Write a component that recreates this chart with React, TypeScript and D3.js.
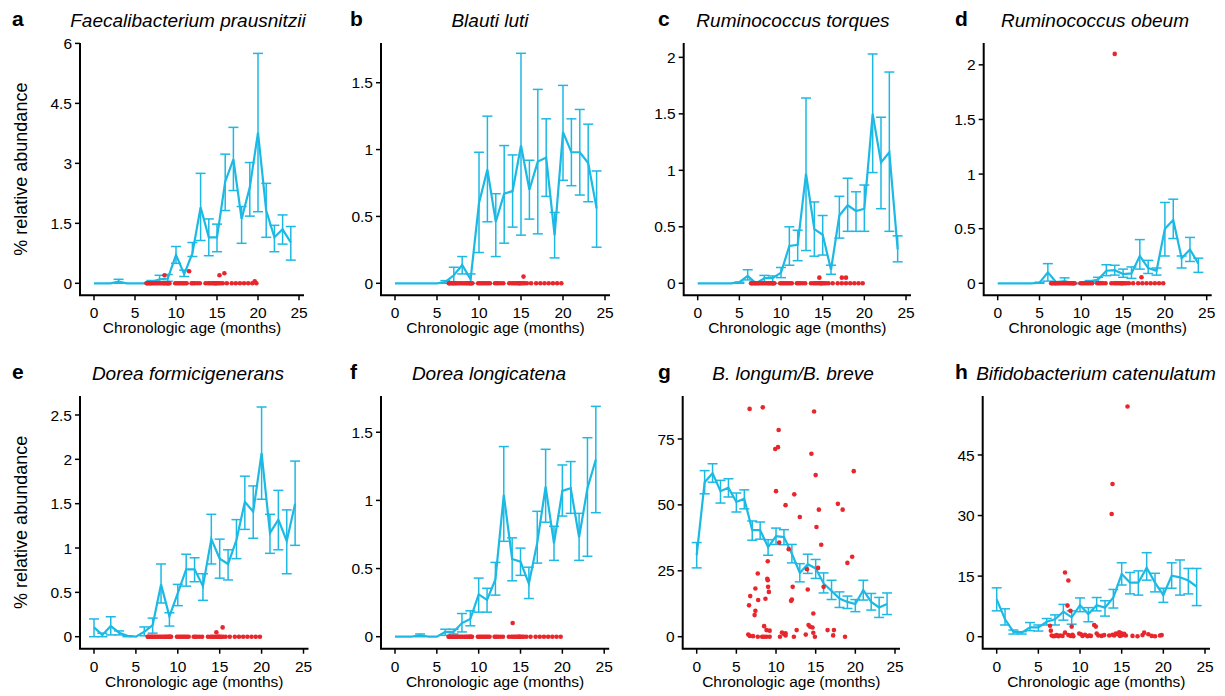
import React from "react";
import * as d3 from "d3";

// ---------- data ----------
const MONTHS = [0, 1, 2, 3, 4, 5, 6, 7, 8, 9, 10, 11, 12, 13, 14, 15, 16, 17, 18, 19, 20, 21, 22, 23, 24];
const X_TICKS = [0, 5, 10, 15, 20, 25];

// ages (months) of the individually plotted samples (red dots)
const SAMPLE_AGES = [6.4, 6.5, 6.6, 6.8, 6.9, 7.0, 7.2, 7.3, 7.5, 7.7, 7.9, 8.1, 8.3, 8.5, 8.6, 8.8, 8.9, 9.0, 9.1, 9.2,
  9.9, 10.1, 10.3, 10.5, 10.7, 10.9, 11.1, 11.3, 11.9, 12.1, 12.3, 12.6, 12.9, 13.6, 13.9, 14.1, 14.3, 14.5, 14.7,
  14.8, 14.9, 15.0, 15.2, 15.4, 15.7, 16.2, 16.8, 17.3, 17.8, 18.3, 18.8, 19.3, 19.8];

// a. Faecalibacterium prausnitzii
const A_MEAN = [0, 0, 0, 0.04, 0, 0, 0, 0.03, 0.1, 0.12, 0.71, 0.23, 0.75, 1.9, 1.15, 1.15, 2.54, 3.1, 1.61, 2.4, 3.77, 1.82, 1.15, 1.35, 1.02];
const A_LOW = [0, 0, 0, 0, 0, 0, 0, 0, 0.03, 0.05, 0.5, 0.17, 0.67, 1.07, 0.69, 0.79, 1.82, 2.32, 1.0, 1.68, 1.79, 1.15, 0.79, 0.98, 0.58];
const A_HIGH = [0, 0, 0, 0.1, 0, 0, 0, 0.07, 0.2, 0.22, 0.92, 0.33, 1.02, 2.75, 1.61, 1.48, 3.23, 3.9, 1.92, 3.02, 5.75, 2.5, 1.45, 1.71, 1.42];
const A_OUTLIERS = [[8.6, 0.2], [11.6, 0.3], [15.3, 0.2], [15.9, 0.25], [19.6, 0.05]];
const A_TICKS = [0, 1.5, 3, 4.5, 6];

// b. Blauti luti
const B_MEAN = [0, 0, 0, 0, 0, 0, 0.01, 0.06, 0.137, 0.03, 0.6, 0.85, 0.46, 0.67, 0.69, 1.03, 0.7, 0.91, 0.94, 0.36, 1.13, 0.98, 0.98, 0.9, 0.56];
const B_LOW = [0, 0, 0, 0, 0, 0, 0, 0, 0.07, 0, 0.23, 0.46, 0.2, 0.3, 0.42, 0.36, 0.48, 0.37, 0.65, 0.19, 0.77, 0.73, 0.66, 0.61, 0.27];
const B_HIGH = [0, 0, 0, 0, 0, 0, 0.02, 0.12, 0.2, 0.07, 0.98, 1.25, 0.67, 1.03, 0.96, 1.72, 0.92, 1.45, 1.23, 0.53, 1.48, 1.23, 1.3, 1.19, 0.84];
const B_OUTLIERS = [[15.3, 0.05]];
const B_TICKS = [0, 0.5, 1, 1.5];

// c. Ruminococcus torques
const C_MEAN = [0, 0, 0, 0, 0, 0.01, 0.065, 0, 0.045, 0.045, 0.095, 0.33, 0.34, 0.97, 0.48, 0.43, 0.12, 0.6, 0.69, 0.64, 0.66, 1.5, 1.07, 1.16, 0.3];
const C_LOW = [0, 0, 0, 0, 0, 0, 0.03, 0, 0.01, 0, 0.05, 0.16, 0.2, 0.29, 0.24, 0.25, 0.08, 0.4, 0.46, 0.46, 0.46, 0.98, 0.66, 0.46, 0.19];
const C_HIGH = [0, 0, 0, 0, 0, 0.01, 0.12, 0, 0.07, 0.065, 0.14, 0.5, 0.47, 1.64, 0.72, 0.6, 0.16, 0.77, 0.93, 0.81, 0.87, 2.03, 1.47, 1.87, 0.42];
const C_OUTLIERS = [[14.6, 0.05], [17.3, 0.05], [17.8, 0.05]];
const C_TICKS = [0, 0.5, 1, 1.5, 2];

// d. Ruminococcus obeum
const D_MEAN = [0, 0, 0, 0, 0, 0.005, 0.1, 0.01, 0.02, 0, 0, 0.015, 0.035, 0.115, 0.12, 0.085, 0.09, 0.25, 0.14, 0.115, 0.5, 0.58, 0.23, 0.31, 0.18];
const D_LOW = [0, 0, 0, 0, 0, 0, 0.02, 0, 0, 0, 0, 0.005, 0.015, 0.07, 0.075, 0.055, 0.045, 0.13, 0.09, 0.075, 0.25, 0.41, 0.14, 0.2, 0.1];
const D_HIGH = [0, 0, 0, 0, 0, 0.01, 0.18, 0.01, 0.05, 0, 0, 0.025, 0.055, 0.17, 0.165, 0.13, 0.15, 0.4, 0.21, 0.14, 0.74, 0.77, 0.25, 0.42, 0.23];
const D_OUTLIERS = [[14.0, 2.1], [17.2, 0.055]];
const D_TICKS = [0, 0.5, 1, 1.5, 2];

// e. Dorea formicigenerans
const E_MEAN = [0.105, 0.02, 0.12, 0.045, 0.01, 0, 0.055, 0.13, 0.59, 0.23, 0.49, 0.76, 0.76, 0.57, 1.1, 0.88, 0.82, 1.09, 1.52, 1.41, 2.07, 1.17, 1.32, 1.08, 1.5];
const E_LOW = [0, 0, 0.02, 0.02, 0, 0, 0.01, 0.04, 0.38, 0.12, 0.35, 0.57, 0.62, 0.41, 0.82, 0.66, 0.64, 0.88, 1.21, 1.11, 1.55, 0.94, 0.98, 0.71, 1.03];
const E_HIGH = [0.2, 0.04, 0.225, 0.065, 0.01, 0, 0.11, 0.21, 0.82, 0.27, 0.59, 0.93, 0.89, 0.71, 1.38, 1.1, 0.98, 1.32, 1.81, 1.7, 2.59, 1.38, 1.65, 1.43, 1.98];
const E_OUTLIERS = [[14.6, 0.05], [15.35, 0.105]];
const E_TICKS = [0, 0.5, 1, 1.5, 2, 2.5];

// f. Dorea longicatena
const F_MEAN = [0, 0, 0, 0.01, 0, 0, 0.035, 0.035, 0.1, 0.13, 0.31, 0.27, 0.42, 1.04, 0.57, 0.55, 0.39, 0.69, 1.1, 0.685, 1.07, 1.09, 0.73, 1.09, 1.3];
const F_LOW = [0, 0, 0, 0, 0, 0, 0.01, 0.02, 0.035, 0.08, 0.18, 0.18, 0.305, 0.7, 0.41, 0.45, 0.28, 0.54, 0.84, 0.56, 0.885, 0.905, 0.56, 0.59, 0.91];
const F_HIGH = [0, 0, 0, 0.02, 0, 0, 0.055, 0.055, 0.17, 0.19, 0.43, 0.355, 0.545, 1.395, 0.725, 0.65, 0.51, 0.92, 1.375, 0.81, 1.26, 1.285, 0.905, 1.46, 1.69];
const F_OUTLIERS = [[14.06, 0.1]];
const F_TICKS = [0, 0.5, 1, 1.5];

// g. B. longum / B. breve
const G_MEAN = [30.9, 58.6, 62, 55.2, 56.5, 51.1, 52.3, 40.4, 40.4, 34, 38.1, 37.8, 31.5, 24.2, 27.5, 25.9, 20.2, 17.4, 14.5, 13.2, 12.4, 17.7, 13.2, 11.1, 12.4];
const G_LOW = [26.1, 54.2, 58.6, 50.7, 53, 47.3, 48.5, 36.6, 37, 30.9, 35, 34.9, 28, 20.8, 24, 22.1, 16.6, 14.1, 11.1, 10.7, 9.5, 13.9, 10.1, 7.3, 8.4];
const G_HIGH = [35.7, 63, 65.6, 59.3, 59.9, 54.5, 55.7, 43.9, 43.5, 36.8, 41.2, 40.6, 35, 27.7, 31.3, 29.3, 24.2, 21.4, 17, 15.4, 14.1, 21.4, 16.4, 14.9, 16.6];
const G_POINTS = [
  [6.67, 86.4], [8.33, 87], [14.8, 85.4], [10.33, 78.4], [9.9, 71.2], [10.25, 71.9], [14.46, 69.4], [19.8, 62.8],
  [15.0, 61.3], [10.0, 55.2], [12.3, 54], [11.2, 49.9], [17.8, 50.4], [18.4, 48.2], [15.4, 48.2], [13.0, 45.4],
  [15.1, 41.6], [15.7, 34.9], [10.4, 35.7], [11.6, 33.2], [19.6, 30.3], [19.0, 28], [8.96, 28.6], [13.9, 25.6],
  [15.3, 26.1], [7.7, 24], [8.9, 22], [8.96, 21.4], [9.0, 18.9], [9.1, 17], [7.4, 18.3], [12.1, 18.9], [16.0, 18.9],
  [14.0, 17.9], [6.75, 15.4], [7.75, 13.9], [8.67, 14.4], [12.0, 14.1], [11.9, 13.6], [6.6, 11.9], [7.4, 9.8],
  [7.3, 8.2], [14.7, 8.8], [8.5, 4], [8.8, 2.5], [9.2, 2.3], [14.1, 4.4], [14.3, 3.8], [14.6, 3.5], [10.75, 1.6],
  [11.2, 1.3], [12.6, 2.5], [16.5, 2.5], [17.3, 2.5], [6.5, 0.8], [6.7, 0.3], [7.1, 0.2], [7.7, 0], [8.25, 0],
  [8.5, 0], [8.8, 0], [9.2, 0], [10.5, 0], [11.2, 0.5], [12.25, 0], [13.75, 0.8], [14.9, 0], [14.7, 1.5], [17.2, 0.5],
  [18.7, 0], [11.0, 1.0]
];
const G_TICKS = [0, 25, 50, 75];

// h. Bifidobacterium catenulatum
const H_MEAN = [9.25, 4.3, 1.24, 1.0, 2.3, 2.3, 3.7, 4.3, 6.2, 4.8, 7.8, 5.6, 7.8, 7.2, 9.7, 15.5, 13.4, 13.4, 17.1, 13.4, 10.3, 15.1, 14.7, 13.9, 12.4];
const H_LOW = [6.4, 2.9, 0.66, 0.66, 1.5, 1.4, 2.9, 2.9, 4.1, 3.1, 6.2, 3.7, 6.4, 5.1, 7.1, 12.8, 10.6, 10.3, 14.0, 11.1, 8.5, 12.0, 10.3, 10.6, 7.7];
const H_HIGH = [12.1, 6.9, 1.65, 1.24, 3.5, 2.9, 4.5, 5.4, 8.0, 6.4, 9.6, 7.2, 9.7, 8.9, 11.7, 18.3, 15.9, 16.3, 20.8, 15.7, 12.0, 18.3, 19.0, 16.9, 16.9];
const H_POINTS = [
  [6.4, 2.7], [6.5, 1.5], [6.6, 0.3], [6.8, 0.1], [7.0, 0.2], [7.2, 0.4], [7.4, 0.1], [7.6, 0.3], [7.9, 0.2], [8.2, 1.0],
  [8.2, 15.9], [8.5, 7.7], [8.6, 13.9], [8.6, 0.4], [8.85, 6.4], [8.9, 0.2], [9.0, 2.5], [9.1, 0.5], [9.2, 0.1],
  [9.9, 0.8], [10.1, 0.6], [10.3, 0.2], [10.6, 0.5], [10.9, 0.1], [11.1, 0.3], [11.3, 0.2], [11.7, 2.9], [11.9, 2.5],
  [12.0, 0.8], [12.2, 0.3], [12.6, 0.2], [12.9, 0.4], [13.5, 0.3], [13.8, 30.4], [13.9, 37.8], [13.9, 0.5], [14.1, 0.3],
  [14.3, 0.8], [14.5, 0.6], [14.7, 1.1], [14.8, 0.2], [14.9, 0.9], [15.1, 0.4], [15.3, 0.7], [15.5, 0.3], [15.7, 57],
  [16.3, 0.2], [16.9, 0.1], [17.5, 0.4], [17.7, 1.0], [18.2, 0.6], [18.6, 0.2], [19.0, 0.1], [19.6, 0.3], [19.8, 0.4]
];
const H_TICKS = [0, 15, 30, 45];

// ---------- styling / layout ----------
const FONT = '"Liberation Sans", Arial, Helvetica, sans-serif';
const BLUE = "#1cb9e4";
const RED = "#e8262b";

type Panel = {
  letter: string; title: string;
  mean: number[]; low: number[]; high: number[];
  points: number[][]; ticks: number[];
  yTop: number; x0: number; x25: number; top: number; y0: number;
  letterX: number; titleX: number; yLabel: boolean;
};

const zeroPts = (extra: number[][]) => [...SAMPLE_AGES.map((a) => [a, 0]), ...extra];

const PANELS: Panel[] = [
  { letter: "a", title: "Faecalibacterium prausnitzii", mean: A_MEAN, low: A_LOW, high: A_HIGH, points: zeroPts(A_OUTLIERS), ticks: A_TICKS,
    yTop: 6.01, x0: 94, x25: 299, top: 43, y0: 283.3, letterX: 12, titleX: 188, yLabel: true },
  { letter: "b", title: "Blauti luti", mean: B_MEAN, low: B_LOW, high: B_HIGH, points: zeroPts(B_OUTLIERS), ticks: B_TICKS,
    yTop: 1.797, x0: 395, x25: 605, top: 43, y0: 283.3, letterX: 350, titleX: 490, yLabel: false },
  { letter: "c", title: "Ruminococcus torques", mean: C_MEAN, low: C_LOW, high: C_HIGH, points: zeroPts(C_OUTLIERS), ticks: C_TICKS,
    yTop: 2.127, x0: 697.7, x25: 906, top: 43, y0: 283.3, letterX: 658, titleX: 793, yLabel: false },
  { letter: "d", title: "Ruminococcus obeum", mean: D_MEAN, low: D_LOW, high: D_HIGH, points: zeroPts(D_OUTLIERS), ticks: D_TICKS,
    yTop: 2.2, x0: 997.7, x25: 1206.7, top: 43, y0: 283.3, letterX: 955, titleX: 1095, yLabel: false },
  { letter: "e", title: "Dorea formicigenerans", mean: E_MEAN, low: E_LOW, high: E_HIGH, points: zeroPts(E_OUTLIERS), ticks: E_TICKS,
    yTop: 2.714, x0: 94, x25: 303.5, top: 396, y0: 636.7, letterX: 12, titleX: 188, yLabel: true },
  { letter: "f", title: "Dorea longicatena", mean: F_MEAN, low: F_LOW, high: F_HIGH, points: zeroPts(F_OUTLIERS), ticks: F_TICKS,
    yTop: 1.766, x0: 395, x25: 604.2, top: 396, y0: 636.7, letterX: 350, titleX: 489, yLabel: false },
  { letter: "g", title: "B. longum/B. breve", mean: G_MEAN, low: G_LOW, high: G_HIGH, points: G_POINTS, ticks: G_TICKS,
    yTop: 91.3, x0: 696.7, x25: 895, top: 396, y0: 636.7, letterX: 658, titleX: 793, yLabel: false },
  { letter: "h", title: "Bifidobacterium catenulatum", mean: H_MEAN, low: H_LOW, high: H_HIGH, points: H_POINTS, ticks: H_TICKS,
    yTop: 59.6, x0: 996.7, x25: 1205, top: 396, y0: 636.7, letterX: 955, titleX: 1096, yLabel: false },
];

function PanelView({ p }: { p: Panel }) {
  const x = d3.scaleLinear().domain([0, 25]).range([p.x0, p.x25]);
  const y = d3.scaleLinear().domain([0, p.yTop]).range([p.y0, p.top]);
  const bottom = p.y0 + 12;
  const axisX = p.x0 - 14;
  const right = p.x25 + 5;
  const line = d3.line<number>().x((_, i) => x(MONTHS[i])).y((d) => y(d));
  const cap = 5;
  return (
    <g>
      <text x={p.letterX} y={p.top - 17} fontFamily={FONT} fontWeight="bold" fontSize={21} fill="#000">{p.letter}</text>
      <text x={p.titleX} y={p.top - 16} fontFamily={FONT} fontStyle="italic" fontSize={19} textAnchor="middle" fill="#000">{p.title}</text>
      {/* axes */}
      <path d={`M${axisX},${p.top}V${bottom}H${right}`} fill="none" stroke="#000" strokeWidth={2} />
      {p.ticks.map((t) => (
        <g key={"y" + t}>
          <line x1={axisX - 5} x2={axisX} y1={y(t)} y2={y(t)} stroke="#000" strokeWidth={1.5} />
          <text x={axisX - 8} y={y(t)} dy="0.36em" textAnchor="end" fontFamily={FONT} fontSize={15.5} fill="#000">{t}</text>
        </g>
      ))}
      {X_TICKS.map((t) => (
        <g key={"x" + t}>
          <line x1={x(t)} x2={x(t)} y1={bottom} y2={bottom + 5} stroke="#000" strokeWidth={1.5} />
          <text x={x(t)} y={bottom + 23} textAnchor="middle" fontFamily={FONT} fontSize={15.5} fill="#000">{t}</text>
        </g>
      ))}
      <text x={(axisX + right) / 2} y={bottom + 38} textAnchor="middle" fontFamily={FONT} fontSize={15.5} fill="#000">Chronologic age (months)</text>
      {p.yLabel && (
        <text transform={`translate(27,${(p.top + bottom) / 2}) rotate(-90)`} textAnchor="middle" fontFamily={FONT} fontSize={18} fill="#000">% relative abundance</text>
      )}
      {/* error bars */}
      {MONTHS.map((m, i) => (
        <g key={"e" + m} stroke={BLUE} strokeWidth={1.5}>
          {p.high[i] - p.low[i] > 0.0001 && (
            <>
              <line x1={x(m)} x2={x(m)} y1={y(p.low[i])} y2={y(p.high[i])} />
              <line x1={x(m) - cap} x2={x(m) + cap} y1={y(p.low[i])} y2={y(p.low[i])} />
              <line x1={x(m) - cap} x2={x(m) + cap} y1={y(p.high[i])} y2={y(p.high[i])} />
            </>
          )}
        </g>
      ))}
      <path d={line(p.mean) || ""} fill="none" stroke={BLUE} strokeWidth={2.2} />
      {/* individual samples */}
      {p.points.map((d, i) => (
        <circle key={"p" + i} cx={x(d[0])} cy={y(d[1])} r={2.3} fill={RED} />
      ))}
    </g>
  );
}

export default function App() {
  return (
    <svg width={1225} height={696} viewBox="0 0 1225 696"
      style={{ position: "absolute", left: 0, top: 0, background: "#fff" }}>
      <rect width={1225} height={696} fill="#fff" />
      {PANELS.map((p) => <PanelView key={p.letter} p={p} />)}
    </svg>
  );
}
